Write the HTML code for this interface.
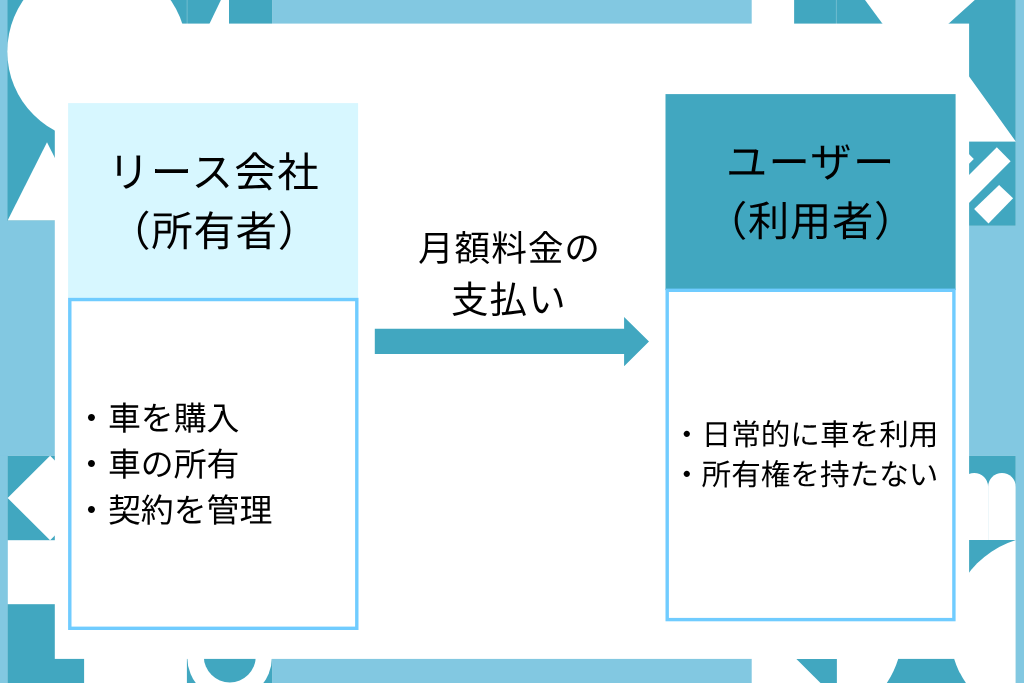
<!DOCTYPE html>
<html lang="ja">
<head>
<meta charset="utf-8">
<title>リース会社とユーザーの関係</title>
<style>
html,body{margin:0;padding:0;background:#fff;}
body{width:1024px;height:683px;overflow:hidden;position:relative;font-family:"Liberation Sans","Noto Sans CJK JP",sans-serif;color:#000;}
#bg{position:absolute;left:0;top:0;width:1024px;height:683px;display:block;}
.t{position:absolute;white-space:nowrap;text-align:left;margin:0;will-change:transform;text-rendering:geometricPrecision;}
</style>
</head>
<body>
<svg id="bg" width="1024" height="683" viewBox="0 0 1024 683">
  <defs><clipPath id="rb"><rect x="960" y="539.8" width="55.8" height="150"/></clipPath></defs>
  <rect x="0" y="0" width="1024" height="683" fill="#ffffff"/>
  <!-- light strips -->
  <g fill="#82c8e1">
    <rect x="0" y="0" width="7.8" height="683"/>
    <rect x="1015.8" y="0" width="8.2" height="683"/>
    <rect x="272.2" y="0" width="479.5" height="30"/>
    <rect x="272.2" y="650" width="479.5" height="33"/>
    <rect x="0" y="220.6" width="60" height="235.2"/>
    <rect x="960" y="225.8" width="64" height="230.1"/>
  </g>
  <!-- dark teal shapes -->
  <g fill="#41a7c0">
    <rect x="7.4" y="0" width="264.8" height="221"/>
    <rect x="7.6" y="455.8" width="60" height="84.4"/>
    <rect x="7.6" y="604.2" width="76.5" height="78.8"/>
    <rect x="186.9" y="640" width="85.3" height="43"/>
    <polygon points="796.4,658.9 836.9,658.9 836.9,683 820.5,683"/>
    <path d="M896,650 L956.5,650 L954.2,658.9 A94.1,94.1 0 0 0 966.6,684.5 L885.8,684.5 A94.1,94.1 0 0 0 898.2,658.9 Z"/>
    <polygon points="794.1,0 865,0 882.5,23.7 882.5,30 794.1,30"/>
    <polygon points="974.8,0 1015.8,0 1015.8,141.6 969.1,76.4 960,76.4 960,30 941.5,30"/>
    <rect x="960" y="141.6" width="55.8" height="84.2"/>
    <rect x="960" y="455.9" width="55.8" height="230"/>
  </g>
  <!-- white cut-outs -->
  <g fill="#ffffff">
    <circle cx="97" cy="51.4" r="89.7"/>
    <polygon points="47,142.2 7.6,220.6 86.4,220.6"/>
    <polygon points="220.9,0 229,0 229,30 206.5,30"/>
    <polygon points="50.1,455.8 92.4,498 50.1,540.2 7.6,498"/>
    <circle cx="229.6" cy="657.5" r="42.3"/>
    <!-- striped tile -->
    <polygon points="996.8,147.2 1010.6,161.3 960,211.9 960,184"/>
    <polygon points="999.1,184.9 1013.1,198.3 988.5,223.4 974.1,209.1"/>
    <polygon points="960,145 973.8,158.9 960,172.8"/>
    <!-- arches -->
    <path d="M960.4,540 L960.4,486.8 A13.85,13.85 0 0 1 988.1,486.8 L988.1,540 Z"/>
    <path d="M988.1,540 L988.1,486.8 A13.85,13.85 0 0 1 1015.8,486.8 L1015.8,540 Z"/>
    <circle cx="1043.7" cy="629.9" r="94.1" clip-path="url(#rb)"/>
  </g>
  <circle cx="229.8" cy="656.4" r="26" fill="#41a7c0"/>
  <rect x="186.7" y="0" width="0.8" height="30" fill="#ffffff" opacity="0.3"/>
  <rect x="835.9" y="0" width="0.8" height="30" fill="#ffffff" opacity="0.3"/>
  <rect x="1015.8" y="0" width="8.2" height="683" fill="#82c8e1"/>
  <!-- main white panel -->
  <rect x="54.8" y="23.6" width="914.3" height="635.3" fill="#ffffff"/>
  <!-- left box -->
  <rect x="68.1" y="103.1" width="290" height="196.4" fill="#d7f7ff"/>
  <rect x="69.8" y="299.55" width="287" height="328.75" fill="#ffffff" stroke="#70ccff" stroke-width="3.4"/>
  <!-- right box -->
  <rect x="665.5" y="94.1" width="290.1" height="196" fill="#41a7c0"/>
  <rect x="667.2" y="290.3" width="286.7" height="329.3" fill="#ffffff" stroke="#70ccff" stroke-width="3.4"/>
  <!-- arrow -->
  <polygon points="374.8,328.7 624.1,328.7 624.1,317 649,341.5 624.1,366.2 624.1,354.1 374.8,354.1" fill="#41a7c0"/>
</svg>
<div class="t" id="lh1" style="left:108.2px;top:143.8px;font-size:41.5px;line-height:58px;letter-spacing:1.3px;">リース会社</div>
<div class="t" id="lh2" style="left:108.5px;top:202.6px;font-size:41.5px;line-height:58px;letter-spacing:0.7px;">（所有者）</div>
<div class="t" id="rh1" style="left:726px;top:134px;font-size:41.3px;line-height:58px;letter-spacing:1.3px;">ユーザー</div>
<div class="t" id="rh2" style="left:705.5px;top:193.2px;font-size:41.3px;line-height:58px;letter-spacing:0.7px;">（利用者）</div>
<div class="t" id="m1" style="left:417.6px;top:224px;font-size:35.7px;line-height:50px;letter-spacing:0.9px;">月額料金の</div>
<div class="t" id="m2" style="left:451px;top:275.4px;font-size:37.5px;line-height:50px;letter-spacing:1.1px;">支払い</div>
<div class="t" id="bl1" style="left:75.4px;top:396.1px;font-size:32.9px;line-height:46px;">・車を購入</div>
<div class="t" id="bl2" style="left:75.4px;top:442.1px;font-size:32.9px;line-height:46px;">・車の所有</div>
<div class="t" id="bl3" style="left:75.4px;top:488.1px;font-size:32.9px;line-height:46px;">・契約を管理</div>
<div class="t" id="br1" style="left:672.3px;top:414.6px;font-size:29.6px;line-height:41px;">・日常的に車を利用</div>
<div class="t" id="br2" style="left:672.3px;top:455.3px;font-size:29.6px;line-height:41px;">・所有権を持たない</div>
</body>
</html>
